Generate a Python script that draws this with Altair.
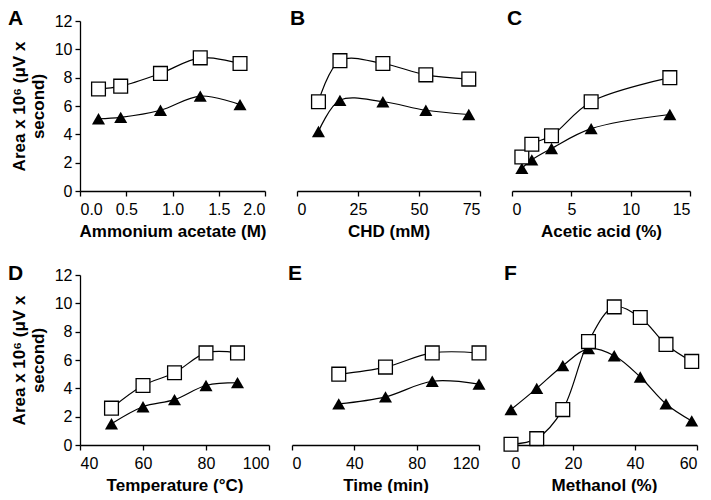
import altair as alt
import pandas as pd

# ---- data ----
a_x = [0.2, 0.44, 0.87, 1.3, 1.73]
a_sq = [7.2, 7.4, 8.3, 9.4, 9.0]
a_tri = [5.1, 5.2, 5.7, 6.7, 6.1]

b_x = [8.8, 17.6, 35.2, 52.8, 70.4]
b_sq = [6.3, 9.2, 9.0, 8.2, 7.9]
b_tri = [4.2, 6.4, 6.3, 5.7, 5.4]

c_x = [0.83, 1.67, 3.33, 6.67, 13.3]
c_sq = [2.4, 3.3, 3.9, 6.3, 8.0]
c_tri = [1.6, 2.2, 3.0, 4.4, 5.4]

d_x = [50, 60, 70, 80, 90]
d_sq = [2.6, 4.2, 5.1, 6.5, 6.5]
d_tri = [1.5, 2.7, 3.2, 4.2, 4.4]

e_x = [30, 60, 90, 120]
e_sq = [5.0, 5.5, 6.5, 6.5]
e_tri = [2.9, 3.4, 4.5, 4.3]

f_x = [0, 8.3, 16.7, 25, 33.3, 41.7, 50, 58.3]
f_sq = [0.05, 0.45, 2.5, 7.3, 9.75, 9.0, 7.1, 5.9]
f_tri = [2.5, 4.0, 5.6, 6.8, 6.3, 4.8, 2.9, 1.7]

y_ticks = [0, 2, 4, 6, 8, 10, 12]
y_title = ["Area x 10\u2076 (\u03bcV x", "second)"]

FONT = "Liberation Sans"


def panel(letter, xs, sq, tri, xtitle, xdomain, xticks, xfmt, width, show_y, letter_dx, letter_dy):
    df = pd.DataFrame({
        "x": list(xs) * 2,
        "y": list(sq) + list(tri),
        "s": ["sq"] * len(xs) + ["tri"] * len(xs),
    })
    xenc = alt.X("x:Q", scale=alt.Scale(domain=xdomain, nice=False, zero=False),
                 axis=alt.Axis(values=xticks, format=xfmt, title=xtitle))
    if show_y:
        yenc = alt.Y("y:Q", scale=alt.Scale(domain=[0, 12], nice=False),
                     axis=alt.Axis(values=y_ticks, title=y_title))
    else:
        yenc = alt.Y("y:Q", scale=alt.Scale(domain=[0, 12], nice=False), axis=None)
    base = alt.Chart(df).encode(x=xenc, y=yenc)
    line_sq = base.transform_filter(alt.datum.s == "sq").mark_line(
        interpolate="catmull-rom", color="black", strokeWidth=1.2)
    line_tri = base.transform_filter(alt.datum.s == "tri").mark_line(
        interpolate="catmull-rom", color="black", strokeWidth=1.2)
    pts_tri = base.transform_filter(alt.datum.s == "tri").mark_point(
        shape="triangle-up", filled=True, color="black", size=170, opacity=1)
    pts_sq = base.transform_filter(alt.datum.s == "sq").mark_point(
        shape="square", filled=True, fill="white", stroke="black",
        strokeWidth=1.3, size=190, opacity=1)
    lab = alt.Chart(pd.DataFrame({"t": [letter]})).mark_text(
        font=FONT, fontSize=21, fontWeight="bold", align="left",
        baseline="alphabetic", color="black").encode(
        text="t:N", x=alt.value(letter_dx), y=alt.value(letter_dy))
    return alt.layer(line_sq, line_tri, pts_tri, pts_sq, lab).properties(
        width=width, height=170)


A = panel("A", a_x, a_sq, a_tri, "Ammonium acetate (M)", [0, 2], [0, 0.5, 1, 1.5, 2], ".1f", 185, True, -72, 4)
B = panel("B", b_x, b_sq, b_tri, "CHD (mM)", [0, 75], [0, 25, 50, 75], "d", 183, False, -7, 4)
C = panel("C", c_x, c_sq, c_tri, "Acetic acid (%)", [0, 15], [0, 5, 10, 15], "d", 178, False, -5, 4)
D = panel("D", d_x, d_sq, d_tri, "Temperature (\u00b0C)", [40, 100], [40, 60, 80, 100], "d", 189, True, -72, 5)
E = panel("E", e_x, e_sq, e_tri, "Time (min)", [0, 120], [0, 40, 80, 120], "d", 187, False, -4, 5)
F = panel("F", f_x, f_sq, f_tri, "Methanol (%)", [0, 60], [0, 20, 40, 60], "d", 186, False, -7, 5)

row1 = alt.hconcat(A, B, C, spacing=32, bounds="flush")
row2 = alt.hconcat(alt.hconcat(D, E, spacing=23, bounds="flush"), F, spacing=12)

chart = alt.vconcat(row1, row2, spacing=24).properties(
    padding={"left": 0, "top": 0, "right": 0, "bottom": 0}
).configure_view(stroke=None).configure_axis(
    domainColor="black", domainWidth=1.3, tickColor="black", tickWidth=1.3, tickSize=5,
    grid=False, labelFont=FONT, labelFontSize=16, labelColor="black",
    titleFont=FONT, titleFontSize=17, titleFontWeight="bold", titleColor="black",
    labelPadding=3, titlePadding=4
).configure_axisX(labelPadding=5, titlePadding=6).configure_axisY(titlePadding=7)

chart.save("out.html", embed_options={"renderer": "svg", "actions": False})
